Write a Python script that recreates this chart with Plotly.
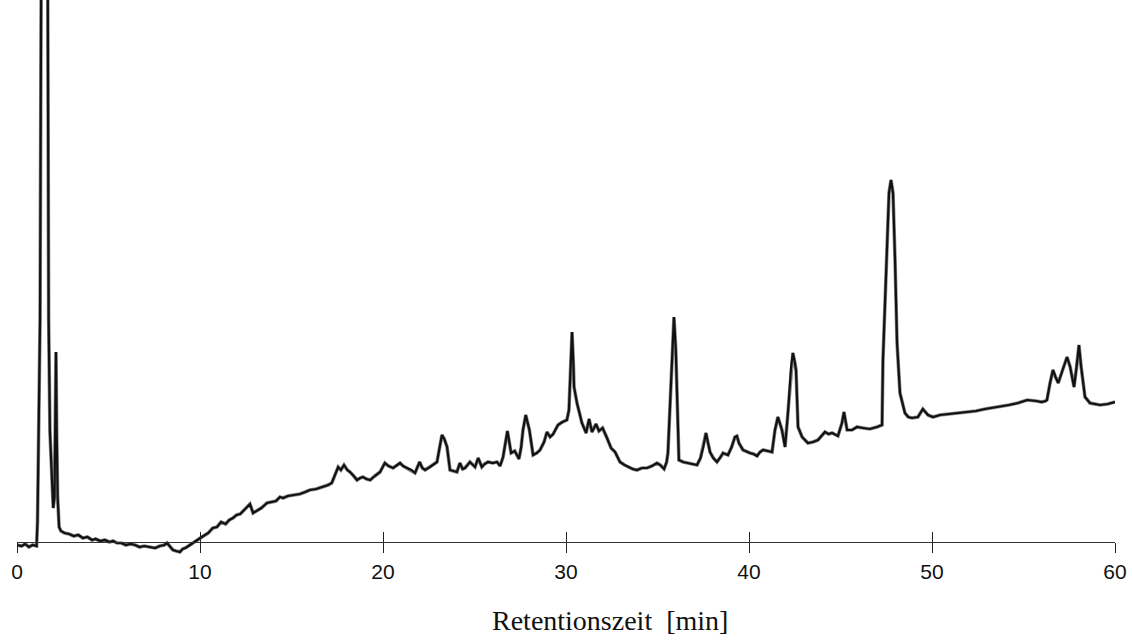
import plotly.graph_objects as go

# Retention time [min]
time_min = [
    0.00, 0.25, 0.45, 0.65, 0.85, 1.00, 1.07, 1.12, 1.19, 1.26, 1.32, 1.50, 1.68, 1.73, 1.80, 1.88, 1.98,
    2.05, 2.10, 2.13, 2.17, 2.22, 2.30, 2.40, 2.60, 2.85, 3.10, 3.35, 3.60, 3.85, 4.10, 4.30, 4.55, 4.80,
    5.05, 5.25, 5.46, 5.70, 5.95, 6.20, 6.45, 6.70, 6.95, 7.27, 7.55, 7.80, 8.05, 8.20, 8.36, 8.52, 8.70,
    8.90, 9.05, 9.20, 9.45, 9.75, 10.10, 10.45, 10.70, 10.93, 11.15, 11.40, 11.60, 11.80, 12.00, 12.20,
    12.45, 12.60, 12.73, 12.90, 13.10, 13.35, 13.66, 13.90, 14.15, 14.37, 14.54, 14.80, 15.10, 15.46,
    15.75, 16.00, 16.35, 16.70, 17.00, 17.20, 17.40, 17.55, 17.70, 17.87, 18.05, 18.20, 18.40, 18.58,
    18.75, 18.90, 19.10, 19.30, 19.55, 19.84, 20.10, 20.30, 20.55, 20.75, 20.93, 21.10, 21.30, 21.55,
    21.75, 22.00, 22.15, 22.30, 22.57, 22.80, 22.95, 23.10, 23.22, 23.35, 23.50, 23.66, 23.85, 24.04,
    24.20, 24.35, 24.48, 24.75, 25.03, 25.20, 25.40, 25.55, 25.74, 26.00, 26.23, 26.40, 26.56, 26.68,
    26.80, 26.90, 27.00, 27.20, 27.43, 27.55, 27.65, 27.80, 27.90, 28.00, 28.20, 28.40, 28.58, 28.80,
    28.96, 29.13, 29.30, 29.56, 29.80, 30.05, 30.16, 30.25, 30.33, 30.40, 30.44, 30.60, 30.87, 31.10,
    31.26, 31.42, 31.64, 31.80, 32.00, 32.24, 32.46, 32.68, 32.95, 33.20, 33.40, 33.65, 33.88, 34.15,
    34.43, 34.70, 34.97, 35.15, 35.36, 35.50, 35.57, 35.70, 35.80, 35.90, 36.00, 36.10, 36.17, 36.40,
    36.60, 36.90, 37.16, 37.35, 37.50, 37.65, 37.75, 37.87, 38.05, 38.25, 38.45, 38.58, 38.85, 39.05,
    39.23, 39.34, 39.45, 39.67, 40.05, 40.25, 40.44, 40.60, 40.77, 41.00, 41.26, 41.42, 41.58, 41.70,
    41.80, 41.97, 42.13, 42.30, 42.40, 42.50, 42.57, 42.68, 42.90, 43.22, 43.50, 43.77, 43.95, 44.15,
    44.35, 44.54, 44.86, 45.08, 45.19, 45.30, 45.36, 45.63, 45.90, 46.23, 46.60, 46.99, 47.27, 47.32,
    47.54, 47.65, 47.76, 47.87, 47.98, 48.09, 48.25, 48.52, 48.70, 48.90, 49.23, 49.50, 49.78, 50.05,
    50.44, 50.90, 51.40, 51.90, 52.40, 52.90, 53.30, 53.70, 54.20, 54.70, 55.20, 55.70, 56.00, 56.20,
    56.28, 56.45, 56.61, 56.75, 56.90, 57.10, 57.38, 57.55, 57.76, 57.90, 58.03, 58.15, 58.36, 58.63,
    58.90, 59.18, 59.60, 60.00,
]

# Detector signal (arbitrary units, 0 = baseline axis)
signal = [
    -3, -4, -2, -5, -3, -4, -4, 20, 120, 222, 560, 1200, 560, 222, 110, 70, 34,
    45, 130, 190, 110, 45, 15, 11, 9, 8, 6, 7, 4, 5, 2, 3, 1, 2,
    0, 1, -1, -1, -3, -2, -3, -5, -4, -5, -6, -4, -3, -1, -4, -8, -9,
    -10, -7, -6, -3, 1, 5, 9, 14, 15, 20, 18, 22, 24, 27, 28,
    33, 36, 38, 29, 31, 34, 39, 40, 41, 45, 44, 46, 47, 48,
    50, 52, 53, 55, 57, 59, 68, 75, 72, 77, 72, 70, 66, 62,
    64, 65, 63, 62, 66, 70, 79, 76, 74, 77, 79, 76, 74, 72,
    69, 80, 74, 72, 75, 78, 80, 95, 107, 103, 95, 72, 71, 70,
    79, 73, 74, 80, 75, 84, 75, 78, 80, 79, 80, 76, 85, 100,
    111, 100, 89, 91, 83, 95, 112, 127, 120, 112, 87, 89, 92, 100,
    110, 105, 108, 117, 120, 122, 132, 180, 210, 180, 155, 139, 119, 109,
    123, 110, 118, 111, 114, 104, 94, 90, 80, 77, 75, 73, 72, 74,
    74, 76, 79, 77, 73, 80, 89, 150, 192, 225, 192, 130, 82, 80,
    79, 78, 77, 84, 95, 109, 100, 90, 84, 80, 85, 89, 87, 95,
    105, 106, 99, 92, 89, 88, 86, 90, 92, 91, 90, 112, 125, 118,
    112, 95, 129, 175, 189, 180, 172, 115, 105, 99, 100, 102, 106, 110,
    108, 109, 106, 119, 130, 118, 112, 112, 115, 114, 113, 115, 117, 182,
    299, 349, 362, 349, 282, 199, 149, 129, 125, 124, 125, 133, 127, 125,
    127, 128, 129, 130, 131, 133, 134, 135, 137, 139, 142, 141, 140, 141,
    142, 159, 172, 165, 159, 170, 185, 175, 155, 175, 197, 175, 145, 139,
    138, 137, 138, 140,
]

tick_values = [0, 10, 20, 30, 40, 50, 60]
tick_labels = ["0", "10", "20", "30", "40", "50", "60"]
x_title = "Retentionszeit&nbsp; [min]"

W, H = 1133, 643
M_L, M_R, M_T, M_B = 17, 18, 0, 81
Y_MIN, Y_MAX = -20, 542
plot_h = H - M_T - M_B
axis_pos = (0 - Y_MIN) / (Y_MAX - Y_MIN)
title_px = 620
title_pos = -(title_px - (H - M_B)) / plot_h

fig = go.Figure()
fig.add_trace(go.Scatter(
    x=time_min, y=signal, mode="lines",
    line=dict(color="#8a8a8a", width=3.6),
    hoverinfo="skip", showlegend=False,
))
fig.add_trace(go.Scatter(
    x=time_min, y=signal, mode="lines",
    line=dict(color="#111111", width=2.2),
    hoverinfo="skip", showlegend=False,
))

common_axis = dict(
    range=[0, 60], tickvals=tick_values, anchor="free", position=axis_pos,
    showgrid=False, zeroline=False, fixedrange=True,
)

fig.update_layout(
    width=W, height=H,
    margin=dict(l=M_L, r=M_R, t=M_T, b=M_B, pad=0),
    paper_bgcolor="white", plot_bgcolor="rgba(0,0,0,0)",
    xaxis=dict(
        **common_axis,
        ticktext=tick_labels,
        showline=True, linecolor="#333333", linewidth=1,
        ticks="outside", ticklen=10, tickwidth=1.3, tickcolor="#222222",
        tickfont=dict(family="Liberation Sans, Arial, sans-serif", size=21, color="#111111"),
        ticklabelstandoff=1,
    ),
    xaxis2=dict(
        **common_axis,
        overlaying="x", side="bottom",
        showline=False, showticklabels=False,
        ticks="inside", ticklen=10, tickwidth=1.3, tickcolor="#222222",
    ),
    yaxis=dict(
        range=[Y_MIN, Y_MAX], visible=False, showgrid=False, zeroline=False,
        fixedrange=True, domain=[0, 1],
    ),
    annotations=[dict(
        text=x_title, xref="x", x=32.4, yref="paper", y=title_pos,
        xanchor="center", yanchor="middle", showarrow=False,
        font=dict(family="Liberation Serif, Times New Roman, serif", size=28, color="#111111"),
    )],
)

# invisible trace so the second (tick-only) axis renders
fig.add_trace(go.Scatter(x=[0, 60], y=[0, 0], xaxis="x2", mode="lines",
                         line=dict(width=0), hoverinfo="skip", showlegend=False, opacity=0))

fig.write_html("out.html")
